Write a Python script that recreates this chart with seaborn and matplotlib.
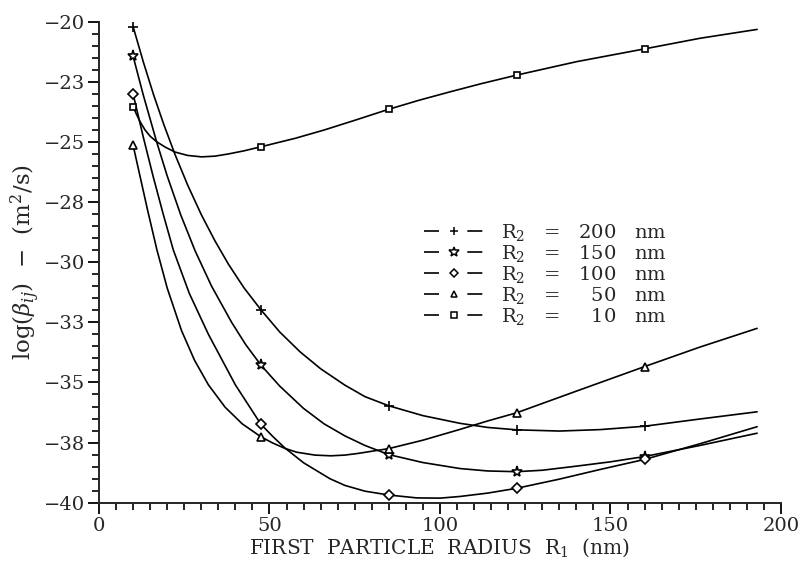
import numpy as np
import pandas as pd
import matplotlib
matplotlib.use("Agg")
import matplotlib.pyplot as plt
from matplotlib.lines import Line2D
from matplotlib.ticker import MultipleLocator
import seaborn as sns

# ---- data ----
marker_x = [10, 47.5, 85, 122.5, 160]

x_200 = [10, 13, 16, 19, 22.3, 26, 30, 34, 38, 42.5, 47.5, 53, 59, 65, 72.1, 78, 85,
         95, 105.9, 114, 122.5, 135, 147, 160, 176.2, 193]
y_200 = [-20.2, -21.67, -23.03, -24.27, -25.52, -26.79, -28.02, -29.11, -30.09, -31.06,
         -31.98, -32.90, -33.73, -34.43, -35.11, -35.59, -35.97,
         -36.38, -36.70, -36.87, -36.97, -37.02, -36.96, -36.82, -36.52, -36.22]

x_150 = [10, 13, 16.9, 20, 24, 28.2, 33, 38.9, 43, 47.5, 53, 60, 66, 72.1, 78, 85,
         95, 105.9, 114, 122.5, 130, 140, 150, 160, 176.2, 193]
y_150 = [-21.43, -23.05, -24.99, -26.41, -28.04, -29.53, -30.99, -32.50, -33.42, -34.28,
         -35.15, -36.08, -36.72, -37.22, -37.62, -38.0,
         -38.33, -38.58, -38.68, -38.71, -38.65, -38.48, -38.30, -38.08, -37.62, -37.11]

x_100 = [10, 13, 15.9, 18.8, 21.8, 26.5, 32.1, 40, 47.5, 51, 54.5, 60, 67.7, 72.1, 78, 85,
         93.2, 100, 105.9, 114, 122.5, 135, 146.9, 160, 176.2, 193]
y_100 = [-23.0, -24.8, -26.44, -27.98, -29.49, -31.3, -33.0, -35.1, -36.74, -37.25, -37.72,
         -38.34, -39.0, -39.28, -39.52, -39.68,
         -39.80, -39.81, -39.74, -39.6, -39.40, -39.02, -38.62, -38.2, -37.55, -36.84]

x_50 = [10, 12, 14.3, 17, 20, 24.2, 28, 32.1, 37, 42, 47.5, 51, 54.5, 58, 63.3, 68, 72.1,
        76, 80.9, 85, 95, 105.9, 114, 122.5, 140, 160, 176.2, 193]
y_50 = [-25.13, -26.4, -27.86, -29.49, -31.07, -32.84, -34.07, -35.10, -36.03, -36.72,
        -37.26, -37.52, -37.74, -37.9, -38.02, -38.05, -38.02,
        -37.95, -37.84, -37.75, -37.4, -36.95, -36.6, -36.26, -35.36, -34.34, -33.53, -32.75]

x_10 = [10, 11, 12, 13.5, 15, 16.9, 19.5, 22.3, 26, 30.1, 34, 37.9, 42.5, 47.5, 57.5, 66.1,
        75, 85, 94, 103.1, 112, 122.5, 140.1, 160, 176.2, 193]
y_10 = [-23.53, -23.85, -24.14, -24.5, -24.76, -24.99, -25.22, -25.42, -25.56, -25.62,
        -25.59, -25.5, -25.37, -25.2, -24.85, -24.5,
        -24.1, -23.64, -23.26, -22.91, -22.58, -22.22, -21.66, -21.13, -20.69, -20.32]

series_r2 = [200, 150, 100, 50, 10]
series_x = [x_200, x_150, x_100, x_50, x_10]
series_y = [y_200, y_150, y_100, y_50, y_10]
series_markers = ["+", "*", "D", "^", "s"]

y_ticks = [-40, -37.5, -35, -32.5, -30, -27.5, -25, -22.5, -20]
y_ticklabels = ["\u221240", "\u221238", "\u221235", "\u221233", "\u221230",
                "\u221228", "\u221225", "\u221223", "\u221220"]
x_ticks = [0, 50, 100, 150, 200]

# ---- style ----
sns.set_style("ticks")
plt.rcParams["font.family"] = ["DejaVu Serif"]
plt.rcParams["mathtext.fontset"] = "dejavuserif"
plt.rcParams["axes.linewidth"] = 1.4

fig = plt.figure(figsize=(8.02, 5.61), dpi=100)
ax = fig.add_axes([0.1234, 0.1039, 0.8504, 0.8574])

msizes = {"+": 7, "*": 8, "D": 5, "^": 6, "s": 5}
handles = []
for r2, xs, ys, mk in zip(series_r2, series_x, series_y, series_markers):
    df = pd.DataFrame({"x": xs, "y": ys})
    idx = [i for i, v in enumerate(xs) if v in marker_x]
    sns.lineplot(data=df, x="x", y="y", ax=ax, color="black", lw=1.2,
                 marker=mk, markevery=idx, ms=msizes[mk], mfc="white",
                 mec="black", mew=1.2, sort=True, estimator=None)
    label = "R$_2$   =   " + str(r2).rjust(3, "\u2007") + "   nm"
    handles.append((Line2D([], [], color="black", lw=1.2, ls=(0, (9, 17)),
                           marker=mk, ms=msizes[mk] - 1, mfc="white", mec="black",
                           mew=1.1), label))

ax.set_xlim(0, 200)
ax.set_ylim(-40, -20)
ax.set_xticks(x_ticks)
ax.xaxis.set_minor_locator(MultipleLocator(5))
ax.set_yticks(y_ticks)
ax.set_yticklabels(y_ticklabels)
ax.yaxis.set_minor_locator(MultipleLocator(0.5))
ax.set_xticklabels([str(v) for v in x_ticks])
ax.tick_params(which="major", direction="out", length=8, width=1.3,
               labelsize=14, pad=2, color="black")
ax.tick_params(which="minor", direction="out", length=5, width=1.2, color="black")
for s in ["top", "right"]:
    ax.spines[s].set_visible(False)

ax.set_xlabel("FIRST  PARTICLE  RADIUS  R$_1$  (nm)", fontsize=14.5, labelpad=1)
ax.set_ylabel(r"log($\beta_{ij}$)  $-$  (m$^2$/s)", fontsize=16.5, labelpad=1)

leg = ax.legend([h for h, _ in handles], [l for _, l in handles],
                loc="upper left", bbox_to_anchor=(0.477, 0.583), frameon=False,
                fontsize=14, handlelength=3.1, handletextpad=0.85,
                labelspacing=0.0, borderpad=0, borderaxespad=0)

fig.savefig("out.png", dpi=100)
